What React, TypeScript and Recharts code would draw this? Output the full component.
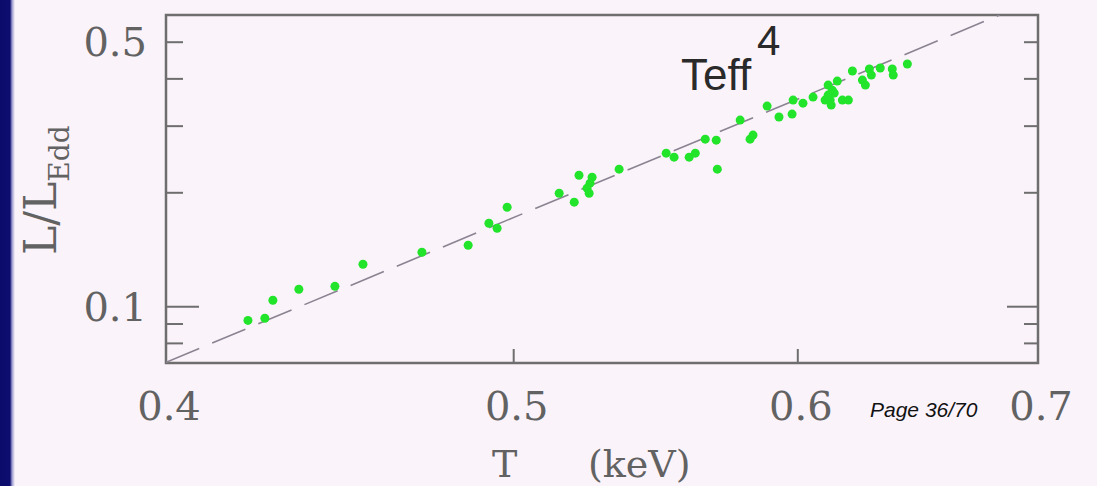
import React from 'react';
import { ScatterChart, Scatter, XAxis, YAxis, ReferenceLine, ReferenceArea } from 'recharts';

// Inner-disc temperature (keV) and L/L_Edd, one entry per observation
const tKeV = [
  0.4216, 0.4262, 0.4284, 0.4356, 0.4458, 0.4539, 0.4714, 0.4856, 0.4921, 0.4947,
  0.4979, 0.5148, 0.5198, 0.5214, 0.5258, 0.5251, 0.5241, 0.5248, 0.535, 0.5514,
  0.5542, 0.5596, 0.5618, 0.5654, 0.5694, 0.5698, 0.5782, 0.5819, 0.583, 0.5883,
  0.5928, 0.5978, 0.5982, 0.602, 0.6059, 0.6106, 0.6118, 0.6126, 0.613, 0.6142,
  0.6154, 0.6174, 0.6198, 0.6214, 0.6254, 0.6266, 0.6282, 0.629, 0.6326, 0.6375,
  0.6379, 0.6437, 0.6134, 0.6118,
];
const lEdd = [
  0.092, 0.0932, 0.104, 0.1112, 0.1132, 0.1295, 0.1393, 0.1454, 0.1662, 0.1612,
  0.1832, 0.1995, 0.1889, 0.2226, 0.2199, 0.2121, 0.2057, 0.1995, 0.2309, 0.2545,
  0.2484, 0.2484, 0.2545, 0.2772, 0.2755, 0.2309, 0.3113, 0.2772, 0.2841, 0.3389,
  0.3171, 0.3228, 0.3515, 0.3451, 0.358, 0.3515, 0.3852, 0.3515, 0.341, 0.3668,
  0.3947, 0.3515, 0.3515, 0.4197, 0.3971, 0.3852, 0.4249, 0.4094, 0.4275, 0.4249,
  0.4094, 0.4378, 0.3735, 0.3624,
];

// L ∝ T^4 guide line end points
const fitT = [0.4, 0.683];
const fitL = [0.0713, 0.59];

const xTicks = [0.4, 0.5, 0.6, 0.7];
const xInner = [0.5, 0.6];
const yTicks = [0.08, 0.09, 0.1, 0.2, 0.3, 0.4, 0.5];
const yLabelled = [0.1, 0.5];
const yDecades = [0.1];

const T_RANGE: [number, number] = [0.4, 0.7];
const L_RANGE: [number, number] = [0.071, 0.59];

const points = tKeV.map((t, i) => ({ t, l: lEdd[i] }));

const FRAME = '#6e6e6e';
const LABEL = '#626262';
const SERIF = '"DejaVu Serif", serif';
const SANS = '"Liberation Sans", Arial, sans-serif';

const BottomTick = ({ x, y, payload }: any) => (
  <g>
    {xInner.includes(payload.value) && (
      <line x1={x} x2={x} y1={y} y2={y - 14} stroke={FRAME} strokeWidth={2} />
    )}
    <text x={x + 3} y={y + 57} textAnchor="middle" fontFamily={SERIF} fontSize={40} fill={LABEL}>
      {payload.value.toFixed(1)}
    </text>
  </g>
);

const TopTick = ({ x, y }: any) => (
  <line x1={x} x2={x} y1={y} y2={y + 13} stroke={FRAME} strokeWidth={2} />
);

const LeftTick = ({ x, y, payload }: any) => {
  const len = yDecades.includes(payload.value) ? 33 : 17;
  return (
    <g>
      <line x1={x} x2={x + len} y1={y} y2={y} stroke={FRAME} strokeWidth={2} />
      {yLabelled.includes(payload.value) && (
        <text x={x - 19} y={y + 14} textAnchor="end" fontFamily={SERIF} fontSize={40} fill={LABEL}>
          {payload.value.toFixed(1)}
        </text>
      )}
    </g>
  );
};

const RightTick = ({ x, y, payload }: any) => {
  const len = yDecades.includes(payload.value) ? 31 : 14;
  return <line x1={x} x2={x - len} y1={y} y2={y} stroke={FRAME} strokeWidth={2} />;
};

const Dot = ({ cx, cy }: any) => <circle cx={cx} cy={cy} r={4.5} fill="#22e42a" />;

export default function App() {
  return (
    <div
      style={{
        position: 'fixed',
        left: 0,
        top: 0,
        width: 1097,
        height: 486,
        overflow: 'hidden',
        background:
          'linear-gradient(to right, #0b0b6b 0px, #0d0d70 10px, #9a9ad0 12px, #fbf3fa 15px)',
      }}
    >
      <ScatterChart width={1097} height={486} margin={{ top: 0, right: 0, bottom: 0, left: 0 }}>
        <XAxis
          xAxisId="b"
          dataKey="t"
          type="number"
          scale="log"
          domain={T_RANGE}
          allowDataOverflow
          ticks={xTicks}
          interval={0}
          height={123}
          axisLine={false}
          tickLine={false}
          tickSize={0}
          tickMargin={0}
          tick={BottomTick}
        />
        <XAxis
          xAxisId="t"
          orientation="top"
          type="number"
          scale="log"
          domain={T_RANGE}
          allowDataOverflow
          ticks={xInner}
          interval={0}
          height={15}
          axisLine={false}
          tickLine={false}
          tickSize={0}
          tickMargin={0}
          tick={TopTick}
        />
        <YAxis
          yAxisId="l"
          dataKey="l"
          type="number"
          scale="log"
          domain={L_RANGE}
          allowDataOverflow
          ticks={yTicks}
          interval={0}
          width={166}
          axisLine={false}
          tickLine={false}
          tickSize={0}
          tickMargin={0}
          tick={LeftTick}
        />
        <YAxis
          yAxisId="r"
          orientation="right"
          type="number"
          scale="log"
          domain={L_RANGE}
          allowDataOverflow
          ticks={yTicks}
          interval={0}
          width={59}
          axisLine={false}
          tickLine={false}
          tickSize={0}
          tickMargin={0}
          tick={RightTick}
        />
        <ReferenceLine
          xAxisId="b"
          yAxisId="l"
          segment={[
            { x: fitT[0], y: fitL[0] },
            { x: fitT[1], y: fitL[1] },
          ]}
          stroke="#8a8492"
          strokeWidth={1.6}
          strokeDasharray="36 14"
          ifOverflow="hidden"
        />
        <Scatter
          xAxisId="b"
          yAxisId="l"
          data={points}
          shape={Dot}
          isAnimationActive={false}
        />
        <ReferenceArea
          xAxisId="b"
          yAxisId="l"
          x1={T_RANGE[0]}
          x2={T_RANGE[1]}
          y1={L_RANGE[0]}
          y2={L_RANGE[1]}
          fill="none"
          fillOpacity={0}
          stroke={FRAME}
          strokeWidth={2.5}
          ifOverflow="visible"
        />
      </ScatterChart>
      <svg
        width={1097}
        height={486}
        style={{ position: 'absolute', left: 0, top: 0, pointerEvents: 'none' }}
      >
        <text transform="translate(56,255) rotate(-90)" fontFamily={SERIF} fontSize={44} fill={LABEL}>
          L/L
          <tspan dy={13} fontSize={28}>Edd</tspan>
        </text>
        <text y={477} fontFamily={SERIF} fontSize={38} fill={LABEL}>
          <tspan x={492}>T</tspan>
          <tspan x={588}>(keV)</tspan>
        </text>
        <text x={681} y={90} fontFamily={SANS} fontSize={44} fill="#2a2a2a">
          Teff
        </text>
        <text x={757} y={55} fontFamily={SANS} fontSize={42} fill="#2a2a2a">
          4
        </text>
        <text x={870} y={417} fontFamily={SANS} fontStyle="italic" fontSize={21} fill="#111">
          Page 36/70
        </text>
      </svg>
    </div>
  );
}
